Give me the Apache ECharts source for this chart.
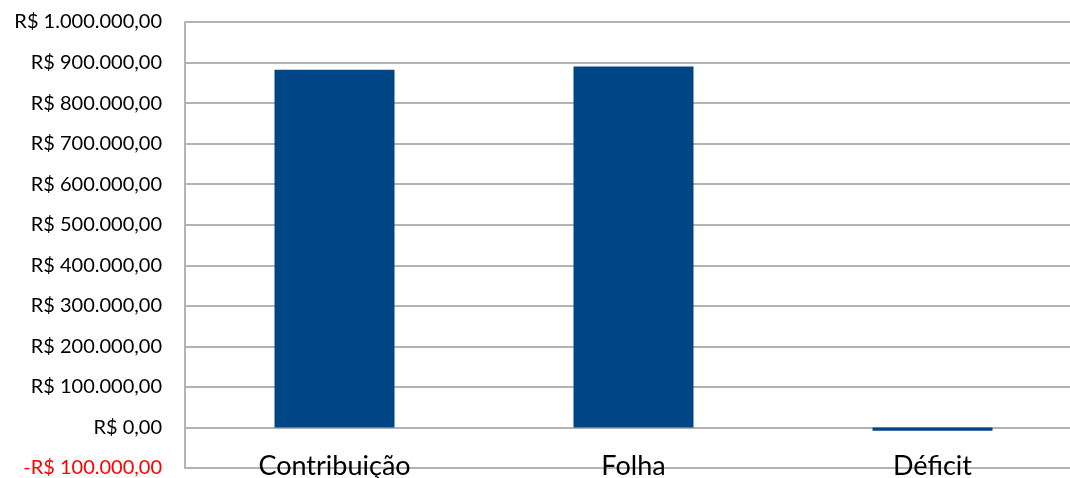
<!DOCTYPE html>
<html>
<head>
<meta charset="utf-8">
<script src="https://cdn.jsdelivr.net/npm/echarts@6/dist/echarts.min.js"></script>
<style>
  html, body { margin: 0; padding: 0; background: #fff; }
  #chart { width: 1070px; height: 478px; }
</style>
</head>
<body>
<div id="chart"></div>
<script>
// categorias e valores
const categories = ['Contribuição', 'Folha', 'Déficit'];
const values = [882000, 890000, -8000];
const yMin = -100000;
const yMax = 1000000;
const yStep = 100000;

function brl(v) {
  const neg = v < 0;
  const s = Math.abs(v).toFixed(2).split('.');
  const int = s[0].replace(/\B(?=(\d{3})+(?!\d))/g, '.');
  return (neg ? '-' : '') + 'R$ ' + int + ',' + s[1];
}

const chart = echarts.init(document.getElementById('chart'));
chart.setOption({
  animation: false,
  // a área do gráfico passa um pouco da borda direita (recortado no original)
  grid: { left: 185, width: 897, top: 22, bottom: 10, outerBoundsMode: 'none' },
  xAxis: {
    type: 'category',
    data: categories,
    axisLine: { onZero: false, lineStyle: { color: '#b3b3b3', width: 2 } },
    axisTick: { show: false },
    axisLabel: {
      margin: -15,
      color: '#000',
      fontSize: 27,
      fontFamily: 'Lato'
    }
  },
  yAxis: {
    type: 'value',
    min: yMin,
    max: yMax,
    interval: yStep,
    axisLine: { show: true, lineStyle: { color: '#b3b3b3', width: 2 } },
    axisTick: { show: false },
    splitLine: { lineStyle: { color: '#b3b3b3', width: 2 } },
    axisLabel: {
      margin: 23,
      fontSize: 20,
      fontFamily: 'Lato',
      formatter: v => v < 0 ? '{neg|' + brl(v) + '}' : brl(v),
      color: '#000',
      rich: { neg: { color: '#ff0000', fontSize: 20, fontFamily: 'Lato' } }
    }
  },
  series: [{
    type: 'bar',
    data: values,
    barWidth: 120,
    itemStyle: { color: '#004586' }
  }]
});
</script>
</body>
</html>
